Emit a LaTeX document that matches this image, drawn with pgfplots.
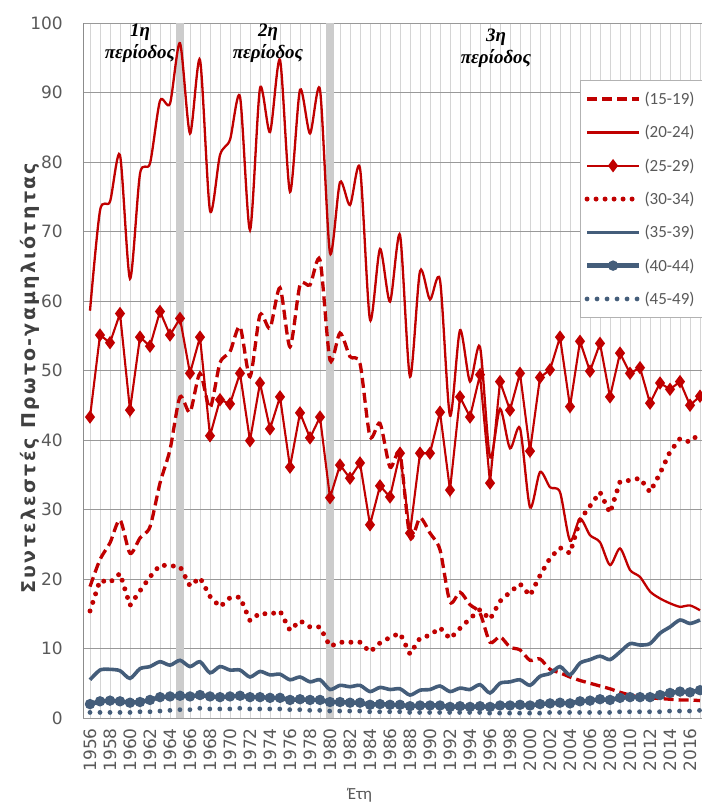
\documentclass[border=0pt]{standalone}
\usepackage{fontspec}
\setmainfont{Carlito}
\newfontfamily\dejavu{DejaVu Sans}
\newfontfamily\ylabfont[LetterSpace=12]{DejaVu Sans}
\newfontfamily\serifgr{Liberation Serif}
\usepackage{pgfplots}
\usepackage{pgfplotstable}
\pgfplotsset{compat=1.18}
\definecolor{cred}{RGB}{192,0,0}
\definecolor{cblue}{RGB}{68,93,122}
\definecolor{tickgray}{RGB}{89,89,89}
\definecolor{labgray}{RGB}{64,64,64}
\pgfplotsset{myleg/.style={legend image code/.code={\draw[mark repeat=2,mark phase=2,##1] plot coordinates {(0bp,0bp) (26bp,0bp) (52bp,0bp)};}}}
\newcommand{\padr}{\rule{14bp}{0pt}}

\pgfplotstableread{
year a b c d e f g
1956 18.9 58.6 43.3 15.4 5.5 2.0 0.8
1957 22.8 73.0 55.1 19.8 6.9 2.4 0.8
1958 25.2 74.3 54.0 19.5 7.0 2.5 0.8
1959 28.5 81.0 58.2 20.8 6.8 2.4 0.8
1960 23.7 63.2 44.3 16.2 5.7 2.2 0.8
1961 25.9 78.3 54.8 18.3 7.1 2.3 0.9
1962 27.5 79.8 53.5 20.3 7.4 2.6 0.9
1963 33.8 88.8 58.5 22.0 8.1 3.0 1.0
1964 38.6 88.4 55.1 21.9 7.6 3.1 1.1
1965 46.2 97.1 57.5 21.8 8.3 3.2 1.2
1966 44.0 84.1 49.6 19.0 7.4 3.1 1.2
1967 49.6 94.7 54.8 20.2 8.1 3.3 1.4
1968 44.6 73.0 40.6 17.5 6.5 3.1 1.3
1969 51.1 81.0 45.8 16.0 7.4 3.0 1.3
1970 52.7 83.2 45.2 17.3 6.9 3.1 1.3
1971 56.3 89.4 49.6 17.4 6.9 3.2 1.4
1972 49.1 70.2 39.9 14.0 5.9 3.0 1.3
1973 58.0 90.6 48.2 15.1 6.7 3.0 1.3
1974 56.1 84.3 41.6 14.9 6.2 2.9 1.3
1975 61.9 94.7 46.2 15.4 6.3 2.9 1.3
1976 53.4 75.7 36.1 12.6 5.5 2.6 1.2
1977 62.3 90.4 43.9 14.0 5.9 2.7 1.2
1978 62.3 84.1 40.3 13.1 5.2 2.6 1.1
1979 65.9 90.4 43.3 13.1 5.5 2.6 1.1
1980 51.5 66.9 31.7 10.3 4.1 2.3 1.0
1981 55.4 77.1 36.4 10.9 4.7 2.3 1.0
1982 52.0 73.8 34.5 10.9 4.5 2.2 1.0
1983 51.0 79.1 36.7 10.9 4.7 2.2 1.0
1984 40.5 57.3 27.8 9.5 3.8 1.9 0.9
1985 42.4 67.5 33.4 10.8 4.4 2.0 0.9
1986 36.1 59.9 31.8 11.6 4.1 1.9 0.9
1987 38.0 69.5 38.1 12.2 4.2 1.9 0.9
1988 26.0 49.1 26.6 9.2 3.3 1.7 0.8
1989 28.8 64.3 38.1 11.5 4.0 1.8 0.8
1990 26.6 60.2 38.1 11.9 4.1 1.8 0.8
1991 24.2 63.0 44.0 13.0 4.6 1.8 0.8
1992 16.7 43.5 32.8 11.4 3.8 1.6 0.8
1993 18.1 55.8 46.2 12.9 4.3 1.7 0.8
1994 16.3 48.4 43.3 14.3 4.1 1.6 0.8
1995 15.1 53.4 49.4 15.6 4.8 1.7 0.8
1996 10.9 37.5 33.8 14.2 3.6 1.6 0.7
1997 11.7 44.5 48.4 16.8 5.0 1.8 0.7
1998 10.2 38.8 44.3 18.1 5.2 1.8 0.7
1999 9.8 41.7 49.6 19.3 5.5 1.9 0.7
2000 8.3 30.3 38.4 17.6 4.7 1.8 0.7
2001 8.5 35.4 49.0 20.5 6.0 2.0 0.7
2002 7.0 33.2 50.1 23.0 6.4 2.1 0.8
2003 6.5 32.5 54.8 24.5 7.4 2.2 0.8
2004 5.9 25.5 44.8 23.7 6.2 2.1 0.8
2005 5.4 28.7 54.2 28.5 7.9 2.4 0.8
2006 5.0 26.3 49.9 30.5 8.4 2.5 0.8
2007 4.6 25.3 53.9 32.5 8.9 2.7 0.8
2008 4.2 22.0 46.2 29.5 8.4 2.6 0.8
2009 3.7 24.4 52.5 34.0 9.5 2.9 0.9
2010 3.3 21.3 49.6 34.2 10.7 3.0 0.9
2011 3.0 20.3 50.4 34.5 10.5 3.0 0.9
2012 2.9 18.2 45.3 32.5 10.7 3.0 0.9
2013 2.8 17.2 48.2 35.2 12.2 3.3 0.9
2014 2.7 16.5 47.3 38.3 13.1 3.6 1.0
2015 2.6 16.0 48.4 40.2 14.1 3.8 1.0
2016 2.6 16.2 45.0 39.7 13.6 3.7 1.0
2017 2.5 15.5 46.3 41.0 14.1 4.0 1.1
}\datatable

\begin{document}
\begin{tikzpicture}
\begin{axis}[
  name=ax, at={(0,0)}, anchor=south west,
  scale only axis, width=619bp, height=695bp,
  xmin=1955.3, xmax=2017.2, ymin=0, ymax=100,
  xtick={1956,1958,...,2016}, minor xtick={1957,1959,...,2017},
  ytick={0,10,...,100},
  xmajorgrids, xminorgrids, ymajorgrids,
  major x grid style={draw=black!17, line width=0.9bp},
  minor x grid style={draw=black!17, line width=0.9bp},
  major y grid style={draw=black!40, line width=0.9bp},
  axis x line*=bottom, axis y line*=left,
  x axis line style={draw=none},
  y axis line style={draw=black!45, line width=1bp},
  major tick length=0pt, minor tick length=0pt,
  /pgf/number format/assume math mode=true,
  /pgf/number format/1000 sep={},
  tick label style={font=\dejavu\fontsize{17bp}{20bp}\selectfont, text=tickgray},
  xticklabel style={rotate=90, anchor=east, inner xsep=0pt, inner ysep=0pt, xshift=-10bp},
  yticklabel style={anchor=east, inner xsep=0pt, xshift=-20bp},
  ylabel={Συντελεστές Πρωτο-γαμηλιότητας},
  ylabel style={at={(axis description cs:-0.0856,0.489)}, anchor=center, rotate=0,
     font=\ylabfont\bfseries\fontsize{19bp}{22bp}\selectfont, text=labgray},
  xlabel={Έτη},
  xlabel style={at={(axis description cs:0.4475,-0.111)}, anchor=center,
     font=\fontsize{17bp}{20bp}\selectfont, text=tickgray},
  legend cell align=left,
  legend style={at={(0.803,0.918)}, anchor=north west, draw=black!30, line width=1bp,
     fill=white, font=\fontsize{17bp}{20bp}\selectfont, text=tickgray,
     inner xsep=4bp, inner ysep=2bp, row sep=0pt,
     nodes={minimum height=33.3bp, inner ysep=0pt, inner xsep=3bp}},
]
\fill[black!20] (axis cs:1964.6,0) rectangle (axis cs:1965.4,100);
\fill[black!20] (axis cs:1979.6,0) rectangle (axis cs:1980.4,100);

\addplot[cred, line width=3.3bp, dash pattern=on 10bp off 5bp, smooth, tension=0.45, myleg]
  table[x=year, y=a] {\datatable};
\addlegendentry{(15-19)\padr}
\addplot[cred, line width=2.3bp, smooth, tension=0.45, myleg]
  table[x=year, y=b] {\datatable};
\addlegendentry{(20-24)\padr}
\addplot[cred, line width=2.1bp, mark=diamond*, mark size=5bp, mark options={solid, fill=cred}, myleg]
  table[x=year, y=c] {\datatable};
\addlegendentry{(25-29)\padr}
\addplot[cred, line width=5bp, line cap=round, dash pattern=on 0bp off 9bp, myleg]
  table[x=year, y=d] {\datatable};
\addlegendentry{(30-34)\padr}
\addplot[cblue, line width=3.6bp, smooth, tension=0.45, myleg]
  table[x=year, y=e] {\datatable};
\addlegendentry{(35-39)\padr}
\addplot[cblue, line width=4.5bp, mark=*, mark size=2.8bp, mark options={solid, fill=cblue}, myleg]
  table[x=year, y=f] {\datatable};
\addlegendentry{(40-44)\padr}
\addplot[cblue, line width=4.8bp, line cap=round, dash pattern=on 0bp off 10bp, myleg]
  table[x=year, y=g] {\datatable};
\addlegendentry{(45-49)\padr}

\node[align=center, anchor=north, inner sep=1bp,
  font=\serifgr\bfseries\itshape\fontsize{19bp}{22bp}\selectfont]
  at (axis cs:1961,100) {1η\\περίοδος};
\node[align=center, anchor=north, inner sep=1bp,
  font=\serifgr\bfseries\itshape\fontsize{19bp}{22bp}\selectfont]
  at (axis cs:1973.8,100) {2η\\περίοδος};
\node[align=center, anchor=north, inner sep=1bp,
  font=\serifgr\bfseries\itshape\fontsize{19bp}{22bp}\selectfont]
  at (axis cs:1996.6,99.3) {3η\\περίοδος};
\end{axis}
\pgfresetboundingbox
\path ([shift={(-83bp,-89bp)}]ax.south west) rectangle ([shift={(0bp,23bp)}]ax.north east);
\end{tikzpicture}
\end{document}
